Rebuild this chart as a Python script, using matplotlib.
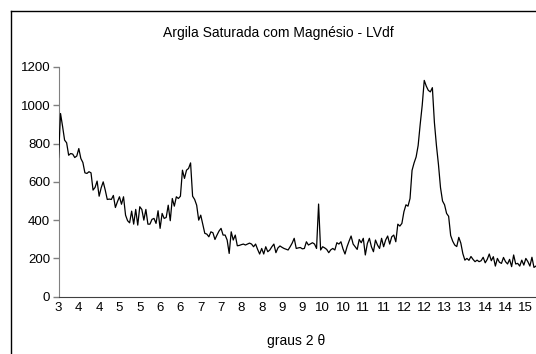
import numpy as np
import matplotlib
matplotlib.use('Agg')
import matplotlib.pyplot as plt
from matplotlib.lines import Line2D

plt.rcParams['font.family'] = ['Liberation Sans', 'DejaVu Sans']

# diffractogram, 2-theta from 3.00 in steps of 0.05
theta_start = 3.0
theta_step = 0.05
counts = [
    727, 957, 890, 818, 804, 739, 748, 745, 727, 735,
    774, 722, 701, 647, 644, 653, 647, 557, 571, 604,
    525, 569, 600, 557, 508, 510, 508, 529, 466, 496,
    522, 483, 522, 426, 397, 386, 447, 379, 456, 374,
    470, 456, 400, 456, 379, 379, 404, 409, 383, 449,
    357, 435, 409, 414, 478, 397, 513, 473, 522, 513,
    525, 661, 618, 661, 670, 699, 525, 508, 478, 400,
    426, 379, 331, 327, 313, 339, 334, 299, 322, 343,
    357, 322, 322, 296, 226, 339, 296, 322, 266, 268,
    272, 275, 270, 275, 280, 275, 261, 275, 247, 223,
    252, 223, 261, 235, 244, 261, 275, 230, 255, 265,
    258, 252, 248, 244, 261, 280, 305, 252, 255, 257,
    250, 252, 287, 270, 276, 282, 275, 252, 484, 244,
    261, 255, 247, 230, 245, 252, 244, 282, 275, 287,
    250, 223, 261, 290, 317, 275, 261, 247, 299, 282,
    305, 218, 278, 305, 261, 235, 296, 270, 252, 305,
    261, 296, 317, 275, 313, 322, 287, 379, 369, 383,
    444, 480, 473, 513, 660, 699, 730, 790, 900, 1000,
    1130, 1100, 1078, 1070, 1092, 910, 790, 690, 570, 500,
    480, 435, 420, 320, 290, 270, 262, 310, 280, 225,
    191, 200, 190, 210, 195, 183, 191, 183, 188, 206,
    177, 195, 223, 188, 209, 160, 200, 180, 174, 205,
    183, 171, 195, 157, 218, 171, 174, 160, 191, 165,
    200, 183, 160, 206, 153, 160,
]
two_theta = theta_start + theta_step * np.arange(len(counts))

# category labels every 0.5 degree, rounded half up like the spreadsheet shows
tick_pos = np.arange(3.0, 14.51, 0.5)
tick_labels = [str(int(np.floor(t + 0.5))) for t in tick_pos]

W, H = 536, 354
fig = plt.figure(figsize=(W / 100, H / 100), dpi=100)

# chart-area frame (runs off the right and bottom edges)
fig.add_artist(Line2D([10.5 / W, 10.5 / W], [0, 1 - 10.5 / H], color='black', lw=1))
fig.add_artist(Line2D([10.5 / W, 1], [1 - 10.5 / H, 1 - 10.5 / H], color='black', lw=1))

left, right = 58.5, 536
bottom, top = 296.7, 67.0
ax = fig.add_axes([left / W, 1 - bottom / H, (right - left) / W, (bottom - top) / H])

ax.plot(two_theta, counts, color='black', lw=0.9, zorder=3)

ax.set_xlim(3.0, 14.75)
ax.set_ylim(0, 1200)
ax.set_yticks(range(0, 1201, 200))
ax.set_xticks(tick_pos)
ax.set_xticklabels(tick_labels)

for s in ['top', 'right']:
    ax.spines[s].set_visible(False)
ax.spines['left'].set_color('#808080')
ax.spines['bottom'].set_color('#404040')
ax.tick_params(axis='y', direction='out', length=4, width=1, color='#808080',
               labelsize=9.5, pad=2)
ax.tick_params(axis='x', length=0, labelsize=9.5, pad=4)

fig.text(278 / W, 1 - 32.5 / H, 'Argila Saturada com Magnésio - LVdf',
         ha='center', va='center', fontsize=10)
fig.text(296.6 / W, 1 - 341.5 / H, 'graus 2 θ', ha='center', va='center', fontsize=10)

fig.savefig('out.png', dpi=100)
